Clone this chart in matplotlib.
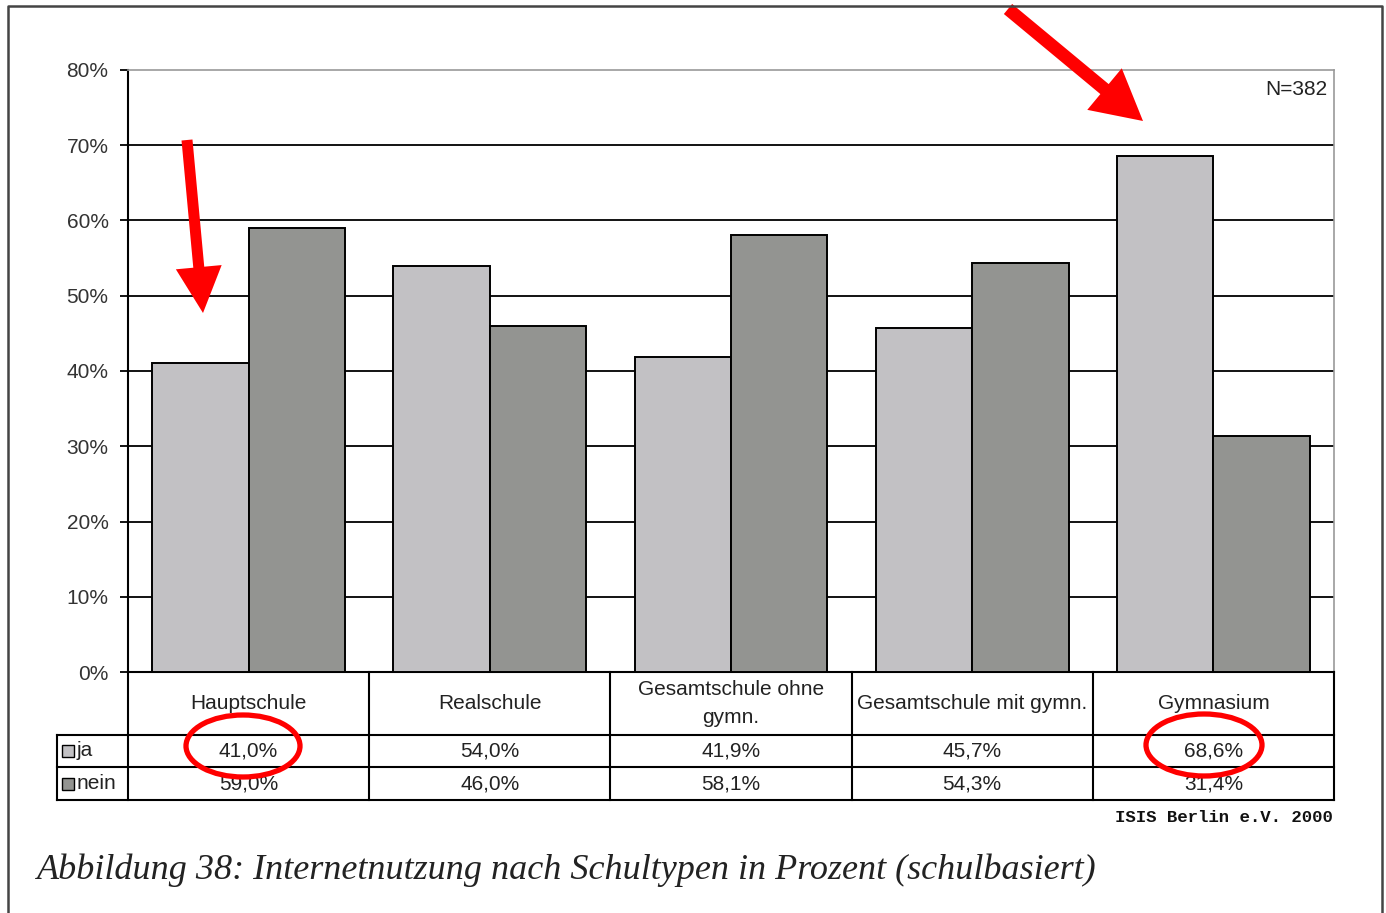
import matplotlib
matplotlib.use("Agg")
import matplotlib.pyplot as plt
from matplotlib.patches import Rectangle, Ellipse, FancyArrow
import numpy as np

plt.rcParams['font.family'] = ['Liberation Sans', 'DejaVu Sans']

# data
categories = ["Hauptschule", "Realschule", "Gesamtschule ohne\ngymn.",
              "Gesamtschule mit gymn.", "Gymnasium"]
ja = [41.0, 54.0, 41.9, 45.7, 68.6]
nein = [59.0, 46.0, 58.1, 54.3, 31.4]
series_labels = ["ja", "nein"]
yticks = [0, 10, 20, 30, 40, 50, 60, 70, 80]
n_label = "N=382"
source = "ISIS Berlin e.V. 2000"
caption = "Abbildung 38: Internetnutzung nach Schultypen in Prozent (schulbasiert)"

col_ja = "#c2c1c4"
col_nein = "#939491"
txt = "#222222"

W, H = 1386, 913
fig = plt.figure(figsize=(W / 100, H / 100), dpi=100)


def px_axes(x0, y0, x1, y1, **kw):
    return fig.add_axes([x0 / W, 1 - y1 / H, (x1 - x0) / W, (y1 - y0) / H], **kw)


# main chart
ax = px_axes(128, 70, 1334, 672)
x = np.arange(len(categories))
bw = 0.4
ax.bar(x - bw / 2, ja, bw, color=col_ja, edgecolor="black", linewidth=1.4, zorder=3)
ax.bar(x + bw / 2, nein, bw, color=col_nein, edgecolor="black", linewidth=1.4, zorder=3)
ax.set_xlim(-0.5, len(categories) - 0.5)
ax.set_ylim(0, 80)
ax.set_yticks(yticks)
ax.set_yticklabels([f"{v}%" for v in yticks], fontsize=15, color="#333333")
ax.set_xticks([])
for v in yticks[1:-1]:
    ax.axhline(v, color="black", linewidth=1.3, zorder=1)
ax.tick_params(axis="y", length=6, width=1.3, pad=8)
ax.spines["left"].set_linewidth(1.5)
ax.spines["bottom"].set_linewidth(1.5)
for s in ("top", "right"):
    ax.spines[s].set_color("#999999")
    ax.spines[s].set_linewidth(1.2)
ax.text(0.9945, 0.968, n_label, transform=ax.transAxes, ha="right", va="center",
        fontsize=15, color=txt)

# data table below the chart
tax = px_axes(128, 672, 1334, 800)
tax.set_xlim(-0.5, len(categories) - 0.5)
tax.set_ylim(128, 0)
tax.axis("off")
lab_w = 71 / 241.2
r1, r2, r3 = 63, 95, 128
lw = 1.5
for i in range(len(categories) + 1):
    tax.plot([i - 0.5, i - 0.5], [0, r3], color="black", lw=lw, clip_on=False)
tax.plot([-0.5 - lab_w, -0.5 - lab_w], [r1, r3], color="black", lw=lw, clip_on=False)
for yy in (r1, r2, r3):
    tax.plot([-0.5 - lab_w, len(categories) - 0.5], [yy, yy], color="black", lw=lw,
             clip_on=False)
for i, c in enumerate(categories):
    tax.text(i, r1 / 2, c, ha="center", va="center", fontsize=15, color=txt,
             linespacing=1.6)
    tax.text(i, (r1 + r2) / 2, f"{ja[i]:.1f}%".replace(".", ","), ha="center",
             va="center", fontsize=15, color=txt)
    tax.text(i, (r2 + r3) / 2, f"{nein[i]:.1f}%".replace(".", ","), ha="center",
             va="center", fontsize=15, color=txt)
for (y0, y1), lab, col in zip([(r1, r2), (r2, r3)], series_labels, [col_ja, col_nein]):
    yc = (y0 + y1) / 2
    tax.add_patch(Rectangle((-0.5 - lab_w + 0.022, yc - 6), 0.05, 12, facecolor=col,
                            edgecolor="black", lw=1, clip_on=False))
    tax.text(-0.5 - lab_w + 0.083, yc, lab, ha="left", va="center", fontsize=15,
             color=txt, clip_on=False)

# overlay for frame, source, caption and red markings (pixel coordinates)
ov = fig.add_axes([0, 0, 1, 1], zorder=10)
ov.set_xlim(0, W)
ov.set_ylim(H, 0)
ov.axis("off")
ov.plot([8, 8, 1382, 1382], [H + 5, 6, 6, H + 5], color="#444444", lw=1.8)
ov.text(1333, 818, source, ha="right", va="center", fontsize=12.5,
        family="Liberation Mono", weight="bold", color="#111111")
ov.text(37, 870, caption, ha="left", va="center", fontsize=26,
        family="Liberation Serif", style="italic", color=txt)

red = "#ff0000"
ov.add_patch(FancyArrow(187, 140, 16, 173, width=11, head_width=46, head_length=46,
                        length_includes_head=True, color=red, lw=0))
ov.add_patch(FancyArrow(1008, 9, 135, 112, width=13, head_width=54, head_length=50,
                        length_includes_head=True, color=red, lw=0))
ov.add_patch(Ellipse((243, 746), 114, 62, fill=False, edgecolor=red, lw=3.8))
ov.add_patch(Ellipse((1204, 745), 116, 62, fill=False, edgecolor=red, lw=3.8))

fig.savefig("out.png", dpi=100)
